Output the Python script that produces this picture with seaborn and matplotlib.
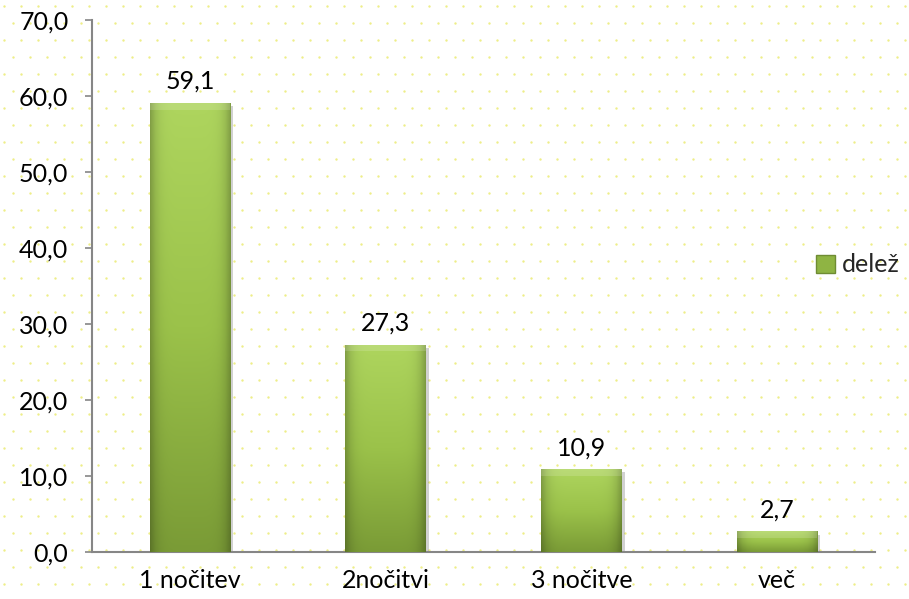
import numpy as np
import pandas as pd
import matplotlib
matplotlib.use("Agg")
import matplotlib.pyplot as plt
import seaborn as sns
from matplotlib.colors import LinearSegmentedColormap
from matplotlib.patches import Rectangle

categories = ["1 nočitev", "2nočitvi", "3 nočitve", "več"]
values = [59.1, 27.3, 10.9, 2.7]
series_name = "delež"
yticks = [0, 10, 20, 30, 40, 50, 60, 70]

sns.set_theme(style="white")
plt.rcParams['font.family'] = ['Lato', 'DejaVu Sans']

df = pd.DataFrame({"kat": categories, "val": values})

fig = plt.figure(figsize=(9.09, 5.99), dpi=100)
fig.patch.set_facecolor("white")

# dotted background pattern
bg = fig.add_axes([0, 0, 1, 1], zorder=-5)
bg.set_xlim(0, 909); bg.set_ylim(599, 0); bg.axis("off")
gx, gy = np.meshgrid(np.arange(4, 909, 17), np.arange(6, 599, 17))
gx = gx + (np.arange(gx.shape[0])[:, None] % 2) * 8.5
bg.scatter(gx.ravel(), gy.ravel(), s=3.0, color="#eeee88", linewidths=0)

ax = fig.add_axes([92/909, 1-552/599, (875-92)/909, (552-20)/599])
ax.patch.set_alpha(0)
sns.barplot(data=df, x="kat", y="val", ax=ax, color="#9bc24a", width=0.41,
            saturation=1, edgecolor="none", zorder=3)

fs = 18
ax.set_ylim(0, 70)
ax.set_yticks(yticks)
ax.set_yticklabels([f"{t:.1f}".replace(".", ",") for t in yticks], fontsize=fs, color="black")
ax.set_xticks(range(len(categories)))
ax.set_xticklabels(categories, fontsize=fs, color="black")
ax.set_xlabel(""); ax.set_ylabel("")
for s in ["top", "right"]:
    ax.spines[s].set_visible(False)
for s in ["left", "bottom"]:
    ax.spines[s].set_color("#868686")
    ax.spines[s].set_linewidth(1.5)
ax.tick_params(axis="y", length=5, color="#868686", width=1.2, pad=12, direction="out", left=True)
ax.tick_params(axis="x", length=0, pad=12)

# gradient overlay on bars
cmap_v = LinearSegmentedColormap.from_list("g", ["#7a9b36", "#9bc24a", "#aed55e"])
grad = np.linspace(0, 1, 256).reshape(-1, 1)
horiz = 1 - 0.25 * np.abs(np.linspace(-1, 1, 64)) ** 6
for p, v in zip(ax.patches, values):
    x0, w, h = p.get_x(), p.get_width(), p.get_height()
    sh = Rectangle((x0 + w*0.04, -0.4), w, h, facecolor="#000000", alpha=0.18,
                   edgecolor="none", zorder=2)
    ax.add_patch(sh)
    rgb = cmap_v(grad)[:, :, :3] * 1.0
    img = np.repeat(rgb, 64, axis=1) * horiz[None, :, None]
    im = ax.imshow(img, extent=[x0, x0 + w, 0, h], origin="lower", aspect="auto", zorder=4)
    im.set_clip_path(p)
    bev = Rectangle((x0, h - 0.9), w, 0.9, facecolor="white", alpha=0.15, edgecolor="none", zorder=5)
    ax.add_patch(bev)
    ax.text(p.get_x() + w/2, h + 1.3, f"{v:.1f}".replace(".", ","), ha="center", va="bottom",
            fontsize=fs, color="black", zorder=6)
ax.set_xlim(-0.5, len(categories) - 0.5)
ax.set_ylim(0, 70)

handle = Rectangle((0, 0), 1, 1, facecolor="#8fb443", edgecolor="#6f8c33")
fig.legend([handle], [series_name], loc="center left", bbox_to_anchor=(816/909, 1-265/599),
           frameon=False, fontsize=fs, handlelength=0.75, handleheight=0.75, handletextpad=0.3,
           borderpad=0, borderaxespad=0)

fig.savefig("out.png", dpi=100)
